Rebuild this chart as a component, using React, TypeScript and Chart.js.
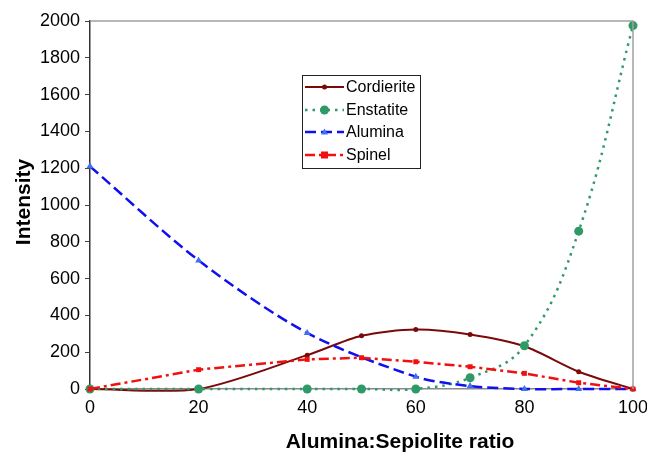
import React, { useEffect, useRef } from "react";
import { Chart, registerables } from "chart.js";

Chart.register(...registerables);

// ---- data ----
const xValues = [0, 20, 40, 50, 60, 70, 80, 90, 100];
const cordierite = [0, 0, 184, 289, 323, 296, 232, 94, 0];
const enstatite = [0, 0, 0, 0, 0, 61, 235, 858, 1975];
const aluminaX = [0, 20, 40, 60, 70, 80, 90, 100];
const alumina = [1210, 699, 305, 67, 16, 0, 0, 0];
const spinel = [0, 105, 161, 170, 148, 121, 85, 34, 0];
const seriesNames = ["Cordierite", "Enstatite", "Alumina", "Spinel"];
const xMin = 0, xMax = 100, xStep = 20;
const yMin = 0, yMax = 2000, yStep = 200;
const xTitle = "Alumina:Sepiolite ratio";
const yTitle = "Intensity";

const colors = {
  cord: "#7a0a0a",
  enst: "#2f9a68",
  alum: "#1010ee",
  alumMarker: "#3f6ff5",
  spin: "#f01010",
};

const toPts = (xs: number[], ys: number[]) => xs.map((x, i) => ({ x, y: ys[i] }));

const FONT = "'Liberation Sans', Arial, Helvetica, sans-serif";

const legendStyles = [
  { color: colors.cord, marker: colors.cord, dash: [] as number[], width: 2, shape: "circle", r: 2.5 },
  { color: colors.enst, marker: colors.enst, dash: [2.5, 5], width: 2.5, shape: "circle", r: 4.5 },
  { color: colors.alum, marker: colors.alumMarker, dash: [11, 5], width: 2.5, shape: "triangle", r: 3.5 },
  { color: colors.spin, marker: colors.spin, dash: [10, 4, 3, 4], width: 2.5, shape: "rect", r: 3.5 },
];

const framePlugin = {
  id: "frameAndTitles",
  afterDraw(chart: any) {
    const { ctx, chartArea } = chart;
    const { left, right, top, bottom } = chartArea;
    ctx.save();
    // top & right border
    ctx.strokeStyle = "#a0a0a0";
    ctx.lineWidth = 1.5;
    ctx.beginPath();
    ctx.moveTo(left, top);
    ctx.lineTo(right, top);
    ctx.lineTo(right, bottom);
    ctx.stroke();

    // axis titles
    ctx.fillStyle = "#000";
    ctx.font = `bold 21px ${FONT}`;
    ctx.textAlign = "center";
    ctx.textBaseline = "middle";
    ctx.fillText(xTitle, 400, 442);
    ctx.save();
    ctx.translate(24, 202);
    ctx.rotate(-Math.PI / 2);
    ctx.fillText(yTitle, 0, 0);
    ctx.restore();

    // legend
    const bx = 302, by = 75, bw = 118, bh = 93;
    ctx.fillStyle = "#fff";
    ctx.fillRect(bx, by, bw, bh);
    ctx.strokeStyle = "#222";
    ctx.lineWidth = 1;
    ctx.strokeRect(bx + 0.5, by + 0.5, bw, bh);
    const rows = [87, 110, 132, 155];
    seriesNames.forEach((name, i) => {
      const s = legendStyles[i];
      const y = rows[i];
      ctx.save();
      ctx.strokeStyle = s.color;
      ctx.lineWidth = s.width;
      ctx.setLineDash(s.dash);
      ctx.beginPath();
      ctx.moveTo(305, y);
      ctx.lineTo(344, y);
      ctx.stroke();
      ctx.setLineDash([]);
      ctx.fillStyle = s.marker;
      const cx = 324.5;
      ctx.beginPath();
      if (s.shape === "circle") {
        ctx.arc(cx, y, s.r, 0, Math.PI * 2);
      } else if (s.shape === "triangle") {
        ctx.moveTo(cx, y - s.r);
        ctx.lineTo(cx + s.r, y + s.r * 0.7);
        ctx.lineTo(cx - s.r, y + s.r * 0.7);
        ctx.closePath();
      } else {
        ctx.rect(cx - s.r, y - s.r, s.r * 2, s.r * 2);
      }
      ctx.fill();
      ctx.restore();
      ctx.fillStyle = "#000";
      ctx.font = `16px ${FONT}`;
      ctx.textAlign = "left";
      ctx.textBaseline = "middle";
      ctx.fillText(name, 346, y + 1);
    });
    ctx.restore();
  },
};

export default function App() {
  const ref = useRef<HTMLCanvasElement | null>(null);
  useEffect(() => {
    document.body.style.margin = "0";
    if (!ref.current) return;
    const chart = new Chart(ref.current, {
      type: "line",
      data: {
        datasets: [
          {
            label: seriesNames[0],
            data: toPts(xValues, cordierite),
            borderColor: colors.cord,
            backgroundColor: colors.cord,
            borderWidth: 2,
            pointRadius: 2.5,
            pointStyle: "circle",
            pointBorderWidth: 0,
            tension: 0.28,
            order: 3,
            clip: false,
          },
          {
            label: seriesNames[1],
            data: toPts(xValues, enstatite),
            borderColor: colors.enst,
            backgroundColor: colors.enst,
            borderWidth: 2.5,
            borderDash: [2.5, 5],
            pointRadius: 4.5,
            pointStyle: "circle",
            pointBorderWidth: 0,
            tension: 0.4,
            order: 2,
            clip: false,
          },
          {
            label: seriesNames[2],
            data: toPts(aluminaX, alumina),
            borderColor: colors.alum,
            backgroundColor: colors.alumMarker,
            borderWidth: 2.5,
            borderDash: [11, 5],
            pointRadius: 4,
            pointStyle: "triangle",
            pointBorderWidth: 0,
            tension: 0.3,
            order: 1,
            clip: false,
          },
          {
            label: seriesNames[3],
            data: toPts(xValues, spinel),
            borderColor: colors.spin,
            backgroundColor: colors.spin,
            borderWidth: 2.5,
            borderDash: [10, 4, 3, 4],
            pointRadius: 3.5,
            pointStyle: "rect",
            pointBorderWidth: 0,
            tension: 0,
            order: 0,
            clip: false,
          },
        ],
      },
      plugins: [framePlugin],
      options: {
        animation: false,
        responsive: false,
        devicePixelRatio: 1,
        elements: { line: { capBezierPoints: false } },
        layout: { padding: { top: 21, right: 14, left: 0, bottom: 0 } },
        plugins: { legend: { display: false }, tooltip: { enabled: false } },
        scales: {
          x: {
            type: "linear",
            min: xMin,
            max: xMax,
            ticks: {
              stepSize: xStep,
              color: "#000",
              font: { family: FONT, size: 18 },
              padding: 8,
              maxRotation: 0,
              callback: (v: any) => String(v),
            },
            grid: { display: true, drawOnChartArea: false, drawTicks: false },
            border: { display: true, color: "#8a8a8a", width: 1.5 },
            afterFit: (s: any) => { s.height = 63; s.paddingRight = 0; s.paddingLeft = 0; },
          },
          y: {
            type: "linear",
            min: yMin,
            max: yMax,
            ticks: {
              stepSize: yStep,
              color: "#000",
              font: { family: FONT, size: 18 },
              padding: 5,
              callback: (v: any) => String(v),
            },
            grid: { display: true, drawOnChartArea: false, drawTicks: true, tickLength: 5, color: "#444", tickWidth: 1 },
            border: { display: true, color: "#333", width: 1.5 },
            afterFit: (s: any) => { s.width = 90; },
          },
        },
      },
    } as any);
    return () => chart.destroy();
  }, []);
  return (
    <div style={{ width: 647, height: 452 }}>
      <canvas ref={ref} width={647} height={452} style={{ display: "block" }} />
    </div>
  );
}
